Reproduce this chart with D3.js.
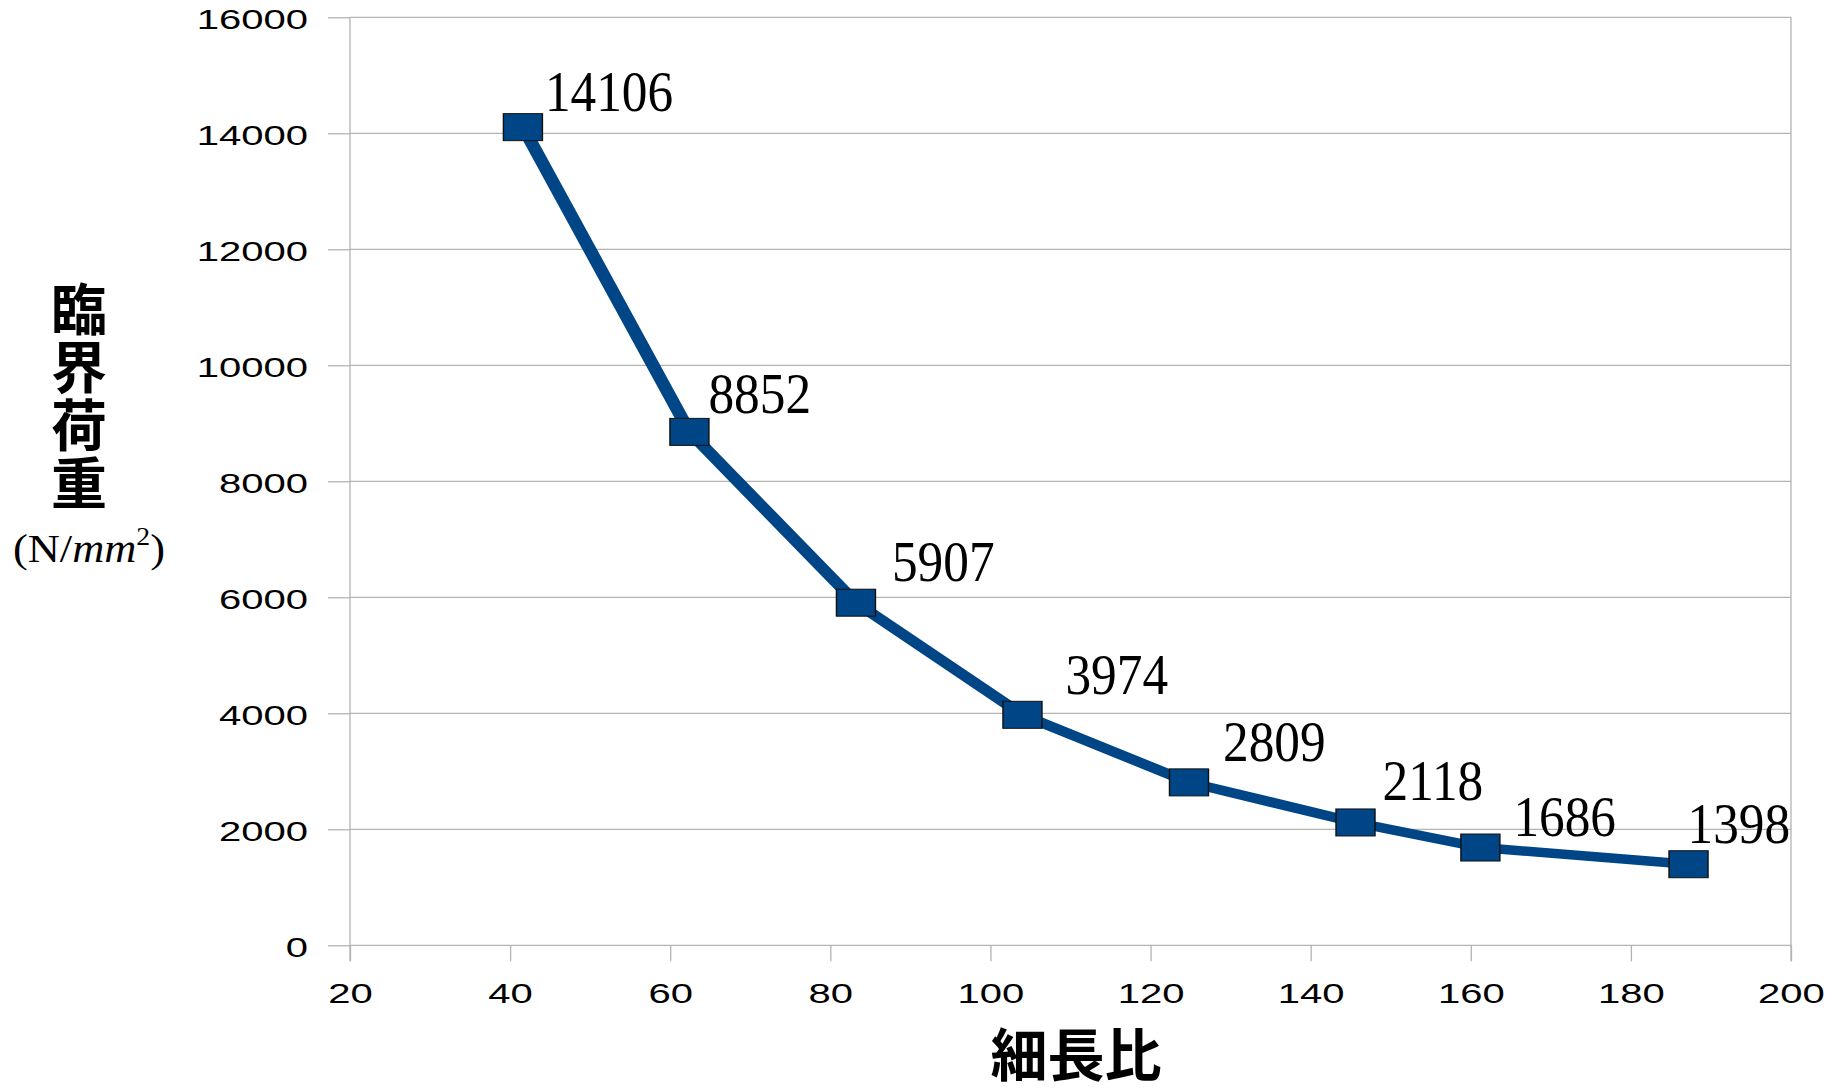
<!DOCTYPE html>
<html><head><meta charset="utf-8">
<script src="https://cdn.jsdelivr.net/npm/d3@7/dist/d3.min.js"></script>
<style>
html,body{margin:0;padding:0;background:#fff;}
svg{display:block;}
</style></head>
<body>
<svg id="chart" width="1844" height="1088"></svg>
<script>
// ---- data ----
const slenderness = [41.6, 62.4, 83.2, 104, 124.8, 145.6, 161.2, 187.2];
const criticalLoad = [14106, 8852, 5907, 3974, 2809, 2118, 1686, 1398];
const xTickValues = [20, 40, 60, 80, 100, 120, 140, 160, 180, 200];
const yTickValues = [0, 2000, 4000, 6000, 8000, 10000, 12000, 14000, 16000];
const xTitle = "細長比";
const yTitle = "臨界荷重";

// ---- layout (label nudges in px relative to marker centre) ----
const labelNudge = [[22,-16],[19,-19],[36,-22],[43,-21],[34,-21],[27,-22],[33,-12],[-1,-21]];
const SX = 1.43;               // horizontal stretch of the original picture
const L = 350, R = 1791, T = 17.3, B = 945.3;
const gridColor = "#b3b3b3";
const lineColor = "#004586";

const svg = d3.select("#chart");
const x = d3.scaleLinear().domain([20, 200]).range([L, R]);
const y = d3.scaleLinear().domain([0, 16000]).range([B, T]);

// grid lines
svg.append("g").selectAll("line").data(yTickValues).join("line")
  .attr("x1", L).attr("x2", R)
  .attr("y1", d => y(d)).attr("y2", d => y(d))
  .attr("stroke", gridColor).attr("stroke-width", 1.3);

// frame verticals
[L, R].forEach(px => {
  svg.append("line").attr("x1", px).attr("x2", px).attr("y1", T).attr("y2", B + 16)
    .attr("stroke", gridColor).attr("stroke-width", 1.3);
});

// y axis
const yAxis = svg.append("g").attr("transform", `translate(${L},0)`)
  .call(d3.axisLeft(y).tickValues(yTickValues).tickSize(22).tickFormat(d3.format("d")));
yAxis.select(".domain").remove();
yAxis.selectAll(".tick line").attr("stroke", gridColor).attr("stroke-width", 1.3);
yAxis.selectAll(".tick text")
  .attr("x", 0).attr("dy", "0.35em")
  .attr("transform", `translate(-42,1.5) scale(${SX},1)`)
  .attr("text-anchor", "end")
  .attr("fill", "#000")
  .style("font-family", "'Liberation Sans', Arial, sans-serif")
  .style("font-size", "28px");

// x axis
const xAxis = svg.append("g").attr("transform", `translate(0,${B})`)
  .call(d3.axisBottom(x).tickValues(xTickValues).tickSize(16).tickFormat(d3.format("d")));
xAxis.select(".domain").remove();
xAxis.selectAll(".tick line").attr("stroke", gridColor).attr("stroke-width", 1.3);
xAxis.selectAll(".tick text")
  .attr("y", 0).attr("dy", 0)
  .attr("transform", `translate(0,58) scale(${SX},1)`)
  .attr("text-anchor", "middle")
  .attr("fill", "#000")
  .style("font-family", "'Liberation Sans', Arial, sans-serif")
  .style("font-size", "28px");

// series (drawn in horizontally stretched space)
const pts = slenderness.map((s, i) => ({s, v: criticalLoad[i], i}));
const g = svg.append("g").attr("transform", `scale(${SX},1)`);
const line = d3.line().x(d => x(d.s) / SX).y(d => y(d.v));
g.append("path").datum(pts).attr("d", line)
  .attr("fill", "none").attr("stroke", lineColor)
  .attr("stroke-width", 9.5).attr("stroke-linejoin", "round");
const MW = 39, MH = 27;
g.selectAll("rect.mk").data(pts).join("rect").attr("class", "mk")
  .attr("x", d => (x(d.s) - MW / 2) / SX)
  .attr("width", MW / SX)
  .attr("y", d => y(d.v) - MH / 2).attr("height", MH)
  .attr("fill", lineColor).attr("stroke", "#111").attr("stroke-width", 1);

// data labels (slightly condensed serif)
svg.append("g").selectAll("text").data(pts).join("text")
  .attr("transform", d => `translate(${x(d.s) + labelNudge[d.i][0]},${y(d.v) + labelNudge[d.i][1]}) scale(0.9,1)`)
  .attr("fill", "#000")
  .style("font-family", "'Liberation Serif', 'Times New Roman', serif")
  .style("font-size", "57px")
  .text(d => d.v);

// y title (vertical)
svg.append("text")
  .attr("x", 79).attr("y", 281)
  .attr("fill", "#000")
  .style("writing-mode", "vertical-rl")
  .style("letter-spacing", "2px")
  .style("font-family", "'Noto Sans CJK JP', 'Noto Sans CJK SC', sans-serif")
  .style("font-weight", "bold").style("font-size", "56px")
  .text(yTitle);

const unit = svg.append("text").attr("x", 13).attr("y", 562)
  .attr("fill", "#000")
  .attr("textLength", 152).attr("lengthAdjust", "spacingAndGlyphs")
  .style("font-family", "'Liberation Serif', 'Times New Roman', serif")
  .style("font-size", "40px");
unit.append("tspan").text("(N/");
unit.append("tspan").style("font-style", "italic").text("mm");
unit.append("tspan").attr("dy", -17).style("font-size", "25px").text("2");
unit.append("tspan").attr("dy", 17).text(")");

// x title
svg.append("text").attr("x", 1076).attr("y", 1051)
  .attr("text-anchor", "middle").attr("dominant-baseline", "central")
  .attr("fill", "#000")
  .style("font-family", "'Noto Sans CJK JP', 'Noto Sans CJK SC', sans-serif")
  .style("font-weight", "bold").style("font-size", "57px")
  .text(xTitle);
</script>
</body></html>
